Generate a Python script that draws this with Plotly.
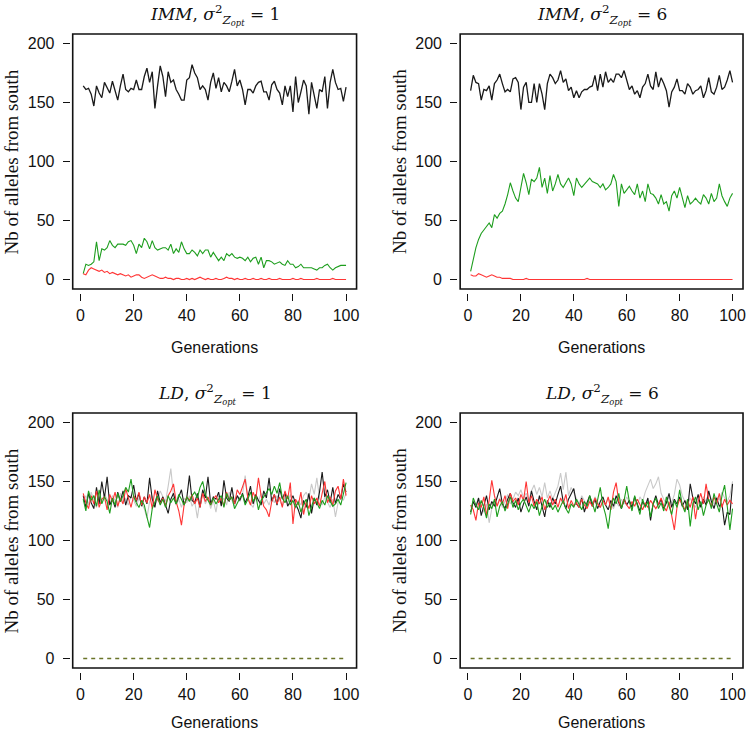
import plotly.graph_objects as go

gens = list(range(1, 101))

# ---- IMM, sigma^2 = 1 ----
imm1_black = [164, 161, 162, 157, 147, 164, 158, 154, 167, 162,
              158, 168, 159, 152, 164, 174, 161, 159, 162, 161,
              169, 161, 161, 172, 179, 167, 176, 145, 164, 181,
              172, 155, 176, 167, 169, 161, 157, 152, 152, 169,
              171, 182, 175, 171, 161, 164, 161, 152, 167, 175,
              162, 171, 159, 167, 164, 159, 168, 178, 164, 169,
              161, 148, 161, 161, 158, 164, 167, 168, 159, 159,
              152, 165, 168, 161, 158, 148, 164, 155, 164, 142,
              172, 150, 159, 169, 164, 140, 167, 157, 145, 161,
              159, 172, 145, 167, 178, 167, 161, 162, 151, 163]
imm1_green = [5, 13, 12, 13, 15, 32, 16, 26, 25, 27,
              33, 29, 27, 30, 30, 30, 29, 32, 33, 29,
              22, 30, 27, 35, 32, 26, 33, 27, 25, 26,
              27, 27, 25, 30, 22, 26, 23, 32, 26, 22,
              22, 25, 23, 20, 25, 22, 25, 25, 19, 23,
              19, 16, 19, 16, 22, 20, 22, 19, 18, 19,
              18, 16, 19, 15, 18, 19, 13, 19, 10, 16,
              16, 15, 13, 14, 15, 13, 12, 16, 13, 13,
              10, 11, 13, 10, 10, 10, 10, 9, 8, 10,
              10, 12, 13, 10, 8, 10, 11, 12, 12, 12]
imm1_red = [5, 4, 8, 10, 9, 8, 7, 8, 6, 7,
            5, 6, 5, 4, 5, 4, 3, 4, 2, 3,
            4, 4, 2, 1, 2, 3, 4, 3, 2, 1,
            1, 2, 1, 1, 0, 1, 1, 0, 0, 1,
            0, 1, 0, 1, 2, 1, 0, 1, 0, 0,
            1, 0, 0, 1, 2, 1, 1, 0, 1, 0,
            0, 1, 0, 0, 1, 0, 0, 1, 0, 0,
            1, 0, 0, 0, 1, 0, 0, 0, 0, 1,
            0, 0, 1, 0, 0, 0, 0, 0, 1, 0,
            0, 0, 0, 0, 1, 0, 0, 0, 0, 0]

# ---- IMM, sigma^2 = 6 ----
imm6_black = [160, 173, 167, 166, 152, 161, 160, 164, 152, 166,
              169, 174, 166, 159, 161, 159, 170, 171, 167, 144,
              163, 167, 150, 150, 166, 150, 166, 157, 144, 166,
              174, 171, 166, 169, 177, 167, 170, 160, 163, 154,
              160, 154, 159, 161, 161, 163, 164, 173, 160, 174,
              163, 176, 167, 170, 167, 174, 174, 171, 177, 169,
              161, 164, 157, 160, 154, 163, 166, 174, 164, 161,
              176, 163, 171, 166, 160, 146, 159, 163, 170, 160,
              160, 157, 166, 163, 157, 160, 161, 164, 154, 160,
              171, 159, 157, 163, 173, 161, 163, 169, 177, 167]
imm6_green = [7, 18, 27, 34, 39, 42, 45, 48, 44, 55,
              52, 56, 58, 64, 72, 82, 75, 69, 66, 78,
              90, 82, 72, 85, 83, 86, 95, 78, 86, 73,
              88, 75, 81, 89, 81, 78, 82, 86, 81, 71,
              86, 81, 78, 81, 83, 86, 83, 82, 81, 78,
              81, 76, 78, 81, 89, 83, 62, 81, 73, 76,
              79, 75, 72, 81, 69, 75, 66, 81, 73, 72,
              69, 64, 72, 64, 66, 58, 71, 75, 69, 78,
              69, 61, 71, 64, 66, 69, 66, 64, 72, 69,
              64, 73, 66, 69, 81, 71, 66, 62, 69, 73]
imm6_red = [4, 3, 3, 5, 4, 3, 2, 3, 4, 3,
            2, 2, 1, 1, 1, 1, 0, 0, 0, 0,
            0, 1, 0, 0, 0, 0, 0, 0, 0, 0,
            0, 0, 0, 0, 0, 0, 0, 0, 0, 0,
            0, 0, 0, 0, 1, 0, 0, 0, 0, 0,
            0, 0, 0, 0, 0, 0, 0, 0, 0, 0,
            0, 0, 0, 0, 0, 0, 0, 0.5, 0, 0,
            0, 0, 0, 0, 0, 0, 0, 0, 0, 0,
            0, 0, 0, 0, 0, 0, 0, 0, 0, 0,
            0, 0, 0, 0, 0, 0, 0, 0, 0, 0]

# ---- LD, sigma^2 = 1 ----
ld1_gray = [133, 138, 130, 141, 134, 128, 137, 132, 139, 135,
            131, 138, 134, 128, 140, 133, 136, 130, 138, 134,
            129, 136, 131, 127, 119, 133, 138, 130, 135, 142,
            137, 133, 146, 161, 138, 130, 135, 128, 136, 132,
            138, 129, 133, 119, 135, 140, 131, 136, 127, 134,
            124, 138, 132, 136, 130, 141, 134, 129, 137, 133,
            139, 155, 136, 131, 128, 137, 133, 140, 131, 135,
            130, 137, 132, 138, 134, 129, 136, 131, 139, 133,
            127, 134, 130, 138, 141, 135, 148, 139, 153, 136,
            130, 137, 133, 128, 135, 120, 132, 138, 134, 140]
ld1_black = [138, 128, 140, 132, 127, 145, 131, 150, 136, 154,
             130, 135, 128, 141, 133, 142, 130, 138, 136, 147,
             133, 140, 129, 137, 131, 153, 135, 128, 142, 132,
             137, 129, 123, 135, 140, 131, 138, 143, 130, 136,
             155, 134, 132, 140, 128, 143, 136, 154, 131, 137,
             135, 141, 129, 151, 136, 133, 145, 131, 138, 134,
             140, 132, 137, 146, 131, 139, 134, 130, 142, 136,
             153, 133, 139, 130, 144, 135, 141, 129, 133, 138,
             131, 126, 119, 134, 128, 140, 123, 136, 130, 141,
             158, 137, 143, 132, 145, 131, 139, 135, 148, 141]
ld1_red = [140, 132, 127, 138, 131, 142, 128, 135, 137, 126,
           139, 133, 141, 129, 136, 131, 144, 135, 128, 138,
           134, 141, 130, 137, 132, 139, 127, 143, 135, 131,
           136, 129, 138, 142, 148, 133, 125, 113, 130, 137,
           134, 139, 131, 136, 128, 140, 133, 137, 130, 135,
           138, 132, 136, 129, 141, 134, 137, 131, 143, 139,
           145, 152, 136, 130, 141, 135, 153, 138, 129, 126,
           120, 133, 139, 131, 137, 128, 142, 135, 149, 114,
           135, 130, 141, 122, 133, 127, 138, 131, 136, 129,
           140, 150, 132, 137, 130, 142, 146, 135, 152, 138]
ld1_green = [135, 125, 142, 134, 138, 129, 143, 131, 137, 133,
             123, 136, 130, 140, 133, 138, 145, 141, 152, 137,
             132, 128, 134, 130, 120, 111, 127, 133, 138, 130,
             135, 128, 138, 132, 136, 131, 139, 135, 130, 137,
             133, 138, 141, 136, 145, 150, 139, 134, 130, 136,
             131, 135, 138, 128, 140, 134, 137, 127, 132, 136,
             139, 130, 135, 141, 133, 138, 126, 134, 137, 141,
             144, 139, 146, 140, 149, 136, 132, 138, 130, 134,
             128, 133, 124, 131, 135, 121, 129, 136, 132, 127,
             134, 130, 138, 133, 129, 131, 135, 130, 140, 149]

# ---- LD, sigma^2 = 6 ----
ld6_gray = [128, 133, 130, 136, 129, 124, 131, 115, 127, 134,
            130, 136, 128, 133, 139, 131, 135, 141, 138, 143,
            136, 140, 134, 142, 147, 139, 145, 137, 149, 136,
            142, 135, 140, 146, 157, 143, 158, 138, 145, 140,
            136, 131, 138, 134, 129, 135, 131, 137, 133, 128,
            134, 130, 136, 131, 127, 133, 129, 135, 131, 137,
            132, 128, 135, 130, 137, 133, 141, 146, 152, 144,
            148, 154, 140, 135, 131, 137, 132, 139, 152, 147,
            138, 133, 130, 136, 131, 128, 135, 131, 137, 133,
            140, 135, 131, 137, 134, 141, 136, 133, 138, 150]
ld6_black = [124, 133, 128, 136, 121, 130, 138, 126, 133, 129,
             137, 144, 131, 127, 135, 140, 132, 128, 136, 124,
             131, 137, 129, 142, 133, 126, 138, 130, 120, 134,
             128, 136, 131, 139, 146, 133, 127, 135, 140, 144,
             131, 128, 136, 124, 132, 138, 129, 135, 127, 133,
             137, 130, 126, 134, 129, 138, 132, 127, 135, 130,
             134, 128, 137, 131, 125, 133, 129, 136, 117, 131,
             138, 130, 135, 127, 132, 140, 128, 135, 131, 137,
             129, 134, 126, 148, 136, 131, 139, 128, 135, 130,
             142, 133, 127, 136, 129, 131, 113, 124, 122, 148]
ld6_red = [130, 126, 117, 132, 128, 137, 121, 134, 151, 138,
           129, 135, 131, 138, 127, 140, 133, 136, 130, 139,
           134, 150, 132, 138, 129, 135, 131, 137, 126, 133,
           138, 130, 135, 128, 136, 131, 139, 127, 134, 129,
           132, 128, 135, 130, 127, 133, 129, 136, 131, 128,
           134, 130, 137, 126, 141, 149, 133, 128, 135, 130,
           127, 133, 129, 135, 131, 126, 132, 128, 134, 130,
           127, 131, 136, 129, 125, 133, 121, 109, 128, 135,
           131, 126, 134, 128, 137, 118, 133, 140, 131, 148,
           134, 129, 137, 131, 140, 128, 135, 130, 134, 131]
ld6_green = [122, 136, 130, 126, 134, 128, 119, 131, 127, 135,
             120, 129, 133, 125, 131, 137, 128, 134, 126, 132,
             135, 129, 124, 131, 127, 133, 121, 129, 135, 128,
             132, 126, 130, 124, 129, 134, 127, 123, 131, 128,
             135, 130, 126, 133, 129, 138, 132, 124, 136, 145,
             130, 122, 110, 128, 136, 131, 140, 127, 134, 146,
             133, 125, 138, 130, 122, 135, 128, 133, 120, 131,
             136, 127, 132, 125, 137, 129, 122, 134, 128, 143,
             130, 124, 135, 112, 131, 137, 126, 133, 121, 130,
             135, 127, 140, 131, 124, 138, 147, 129, 109, 127]
ld_zero = [0] * 100

titles = ["<i>IMM</i>, <i>σ</i><sup>2</sup><sub><i>Z<sub>opt</sub></i></sub> = 1",
          "<i>IMM</i>, <i>σ</i><sup>2</sup><sub><i>Z<sub>opt</sub></i></sub> = 6",
          "<i>LD</i>, <i>σ</i><sup>2</sup><sub><i>Z<sub>opt</sub></i></sub> = 1",
          "<i>LD</i>, <i>σ</i><sup>2</sup><sub><i>Z<sub>opt</sub></i></sub> = 6"]
x_ticks = [0, 20, 40, 60, 80, 100]
y_ticks = [0, 50, 100, 150, 200]
x_label = "Generations"
y_label = "Nb of alleles from south"

W, H = 751, 732
BLACK = "#1a1a1a"
RED = "#ff3535"
GREEN = "#1e9e1e"
GRAY = "#c9c9c9"
OLIVE = "#6a7428"

# panel boxes in pixels: (left, right, top, bottom, x-label centre y)
boxes = [(73, 358, 34, 289, 347), (462, 746, 34, 289, 347),
         (73, 358, 413, 668, 722), (462, 746, 413, 668, 722)]

panels = [
    [(imm1_black, BLACK, 1.3, None), (imm1_green, GREEN, 1.1, None), (imm1_red, RED, 1.1, None)],
    [(imm6_black, BLACK, 1.3, None), (imm6_green, GREEN, 1.1, None), (imm6_red, RED, 1.1, None)],
    [(ld1_gray, GRAY, 1.1, None), (ld1_black, BLACK, 1.1, None), (ld1_red, RED, 1.1, None),
     (ld1_green, GREEN, 1.1, None), (ld_zero, OLIVE, 1.4, "4px,4px")],
    [(ld6_gray, GRAY, 1.1, None), (ld6_black, BLACK, 1.1, None), (ld6_red, RED, 1.1, None),
     (ld6_green, GREEN, 1.1, None), (ld_zero, OLIVE, 1.4, "4px,4px")],
]

fig = go.Figure()
layout = dict(width=W, height=H, margin=dict(l=0, r=0, t=0, b=0),
              paper_bgcolor="white", plot_bgcolor="white", showlegend=False)
annotations = []
shapes = []
tickfont = dict(family="Liberation Sans, Arial, sans-serif", size=16, color="#111")
for i, (l, r, t, b, xly) in enumerate(boxes):
    n = "" if i == 0 else str(i + 1)
    xa, ya = "x" + n, "y" + n
    for (vals, col, w, dash) in panels[i]:
        fig.add_trace(go.Scatter(x=gens, y=vals, mode="lines", xaxis=xa, yaxis=ya,
                                 line=dict(color=col, width=w, dash=dash),
                                 hoverinfo="skip"))
    layout["xaxis" + n] = dict(domain=[l / W, r / W], range=[-2.96, 103.96],
                               anchor="free", position=1 - (b + 4) / H,
                               showgrid=False, zeroline=False, showline=False,
                               ticks="outside", ticklen=7, tickwidth=1.2, tickcolor="#111",
                               tickvals=x_ticks, tickfont=tickfont, ticklabelstandoff=1)
    layout["yaxis" + n] = dict(domain=[1 - b / H, 1 - t / H], range=[-8, 208],
                               anchor="free", position=(l - 3) / W,
                               showgrid=False, zeroline=False, showline=False,
                               ticks="outside", ticklen=7, tickwidth=1.2, tickcolor="#111",
                               tickvals=y_ticks, tickfont=tickfont, ticklabelstandoff=5)
    shapes.append(dict(type="rect", xref=xa + " domain", yref=ya + " domain",
                       x0=0, x1=1, y0=0, y1=1, line=dict(color="#111", width=1.6)))
    cx = (l + r) / 2
    annotations.append(dict(text=titles[i], x=cx / W, y=1 - (t - 19) / H, xref="paper", yref="paper",
                            showarrow=False, xanchor="center", yanchor="middle",
                            font=dict(family="DejaVu Serif, Liberation Serif, serif", size=17, color="#111")))
    annotations.append(dict(text=x_label, x=cx / W, y=1 - xly / H, xref="paper", yref="paper",
                            showarrow=False, xanchor="center", yanchor="middle",
                            font=dict(family="Liberation Sans, Arial, sans-serif", size=16, color="#111")))
    annotations.append(dict(text=y_label, x=(l - 61) / W, y=1 - ((t + b) / 2) / H, xref="paper", yref="paper",
                            showarrow=False, xanchor="center", yanchor="middle", textangle=-90,
                            font=dict(family="Liberation Serif, Times New Roman, serif", size=19, color="#111")))

layout["annotations"] = annotations
layout["shapes"] = shapes
fig.update_layout(**layout)
fig.write_html("out.html", config={"displayModeBar": False},
               post_script="document.body.style.margin='0';document.body.style.overflow='hidden';")
